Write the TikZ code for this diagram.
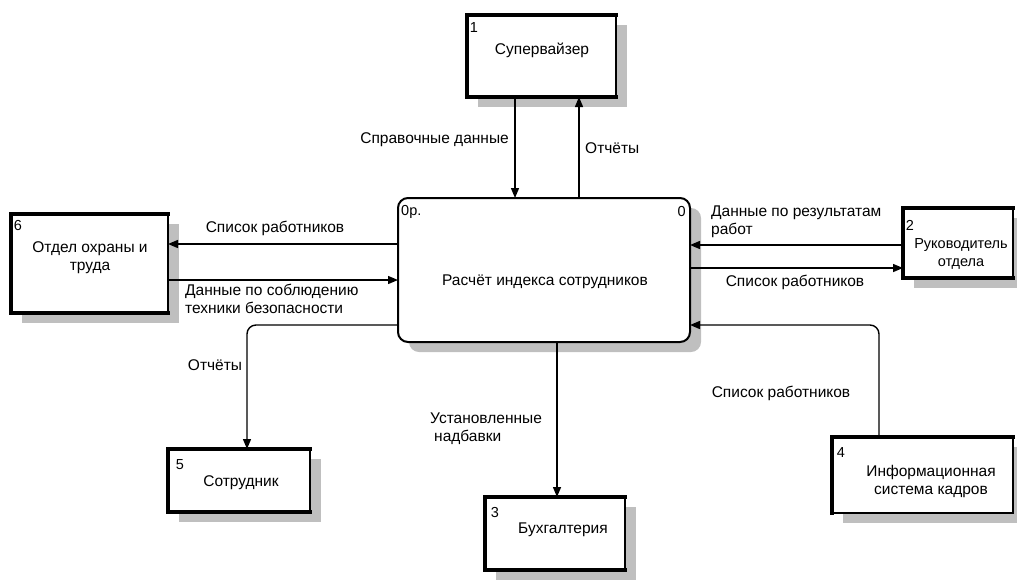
\documentclass[tikz,border=0pt]{standalone}
\usepackage{fontspec}
\setmainfont{Liberation Sans}
\usetikzlibrary{arrows.meta,backgrounds,calc}
\begin{document}
\begin{tikzpicture}[x=1pt,y=-1pt,
  font=\fontsize{15.5}{18}\selectfont,
  ent/.style={draw=black, line width=1.3pt, fill=white, inner sep=0pt, outer sep=0pt},
  proc/.style={draw=black, line width=2pt, fill=white, rounded corners=10pt, inner sep=0pt, outer sep=0pt},
  heavy/.style={line width=4pt, line cap=rect},
  shad/.style={fill=gray!50},
  flow/.style={line width=1.4pt, -{Triangle[length=10pt,width=8pt]}},
  lbl/.style={inner sep=0pt, align=left},
  ttl/.style={inner sep=0pt, align=center},
  num/.style={inner sep=0pt, font=\fontsize{14.5}{16}\selectfont},
]
\useasboundingbox (0,0) rectangle (1017,579);

% boxes
\node[ent, minimum width=149, minimum height=82] (b1) at (541.5,56) {};
\node[ent, minimum width=157, minimum height=99] (b6) at (89.5,263.5) {};
\node[ent, minimum width=110, minimum height=70] (b2) at (958,243) {};
\node[ent, minimum width=142, minimum height=63] (b5) at (239,480.5) {};
\node[ent, minimum width=140, minimum height=73] (b3) at (555,533.5) {};
\node[ent, minimum width=181, minimum height=76] (b4) at (922.5,475) {};
\node[proc, minimum width=292, minimum height=144] (c) at (544,270) {};

% heavy edges
\foreach \n in {b1,b6,b2,b5,b3} {
  \draw[heavy] (\n.south east) -- (\n.south west) -- (\n.north west) -- (\n.north east);
}
\draw[heavy] (b4.south west) -- (b4.north west) -- (b4.north east);

% shadows
\begin{scope}[on background layer]
\foreach \n in {b1,b6,b2,b5,b3,b4} {
  \fill[shad] ($(\n.north west)+(11,10)$) rectangle ($(\n.south east)+(11,10)$);
}
\fill[shad, rounded corners=10pt] ($(c.north west)+(11,10)$) rectangle ($(c.south east)+(11,10)$);
\end{scope}

% box texts
\node[num] (n1) at (474,28) {1};
\node[ttl] (t1) at (542,50) {Супервайзер};
\node[num] (n6) at (18,226) {6};
\node[ttl] (t6) at (90,258) {Отдел охраны и\\труда};
\node[num] (n2) at (910,225) {2};
\node[ttl, font=\fontsize{14.5}{18}\selectfont] (t2) at (961,254) {Руководитель\\отдела};
\node[num] (n5) at (180,465) {5};
\node[ttl] (t5) at (241,483) {Сотрудник};
\node[num] (n3) at (495,512) {3};
\node[ttl] (t3) at (563,530) {Бухгалтерия};
\node[num] (n4) at (841,453) {4};
\node[ttl] (t4) at (931,481) {Информационная\\система кадров};
\node[num, anchor=west] (n0l) at (401,212) {0р.};
\node[num, anchor=east] (n0r) at (686,212) {0};
\node[ttl] (tc) at (545,282) {Расчёт индекса сотрудников};

% helper coordinates for connector positions
\coordinate (xa) at (515,0);
\coordinate (xb) at (579,0);
\coordinate (xc) at (557,0);
\coordinate (xd) at (247,0);
\coordinate (xe) at (879,0);
\coordinate (ya) at (0,244);
\coordinate (yb) at (0,280);
\coordinate (yc) at (0,245);
\coordinate (yd) at (0,268);
\coordinate (ye) at (0,325);

% connectors
\draw[flow] (b1.south -| xa) -- (c.north -| xa);
\draw[flow] (c.north -| xb) -- (b1.south -| xb);
\draw[flow] (c.west |- ya) -- (b6.east |- ya);
\draw[flow] (b6.east |- yb) -- (c.west |- yb);
\draw[flow] (b2.west |- yc) -- (c.east |- yc);
\draw[flow] (c.east |- yd) -- (b2.west |- yd);
\draw[flow, rounded corners=9pt] (c.west |- ye) -- (xd |- ye) -- (b5.north -| xd);
\draw[flow] (c.south -| xc) -- (b3.north -| xc);
\draw[flow, rounded corners=9pt] (b4.north -| xe) -- (xe |- ye) -- (c.east |- ye);

% connector labels
\node[lbl, anchor=east] (l1) at (509,140) {Справочные данные};
\node[lbl, anchor=west] (l2) at (585,148) {Отчёты};
\node[lbl] (l3) at (275,228) {Список работников};
\node[lbl, anchor=west] (l4) at (185,299) {Данные по соблюдению\\техники безопасности};
\node[lbl, anchor=west] (l5) at (711,222) {Данные по результатам\\работ};
\node[lbl] (l6) at (795,282) {Список работников};
\node[lbl] (l7) at (215,365) {Отчёты};
\node[lbl, anchor=west] (l8) at (430,429) {Установленные\\\hspace*{4pt}надбавки};
\node[lbl] (l9) at (781,393) {Список работников};
\end{tikzpicture}
\end{document}
